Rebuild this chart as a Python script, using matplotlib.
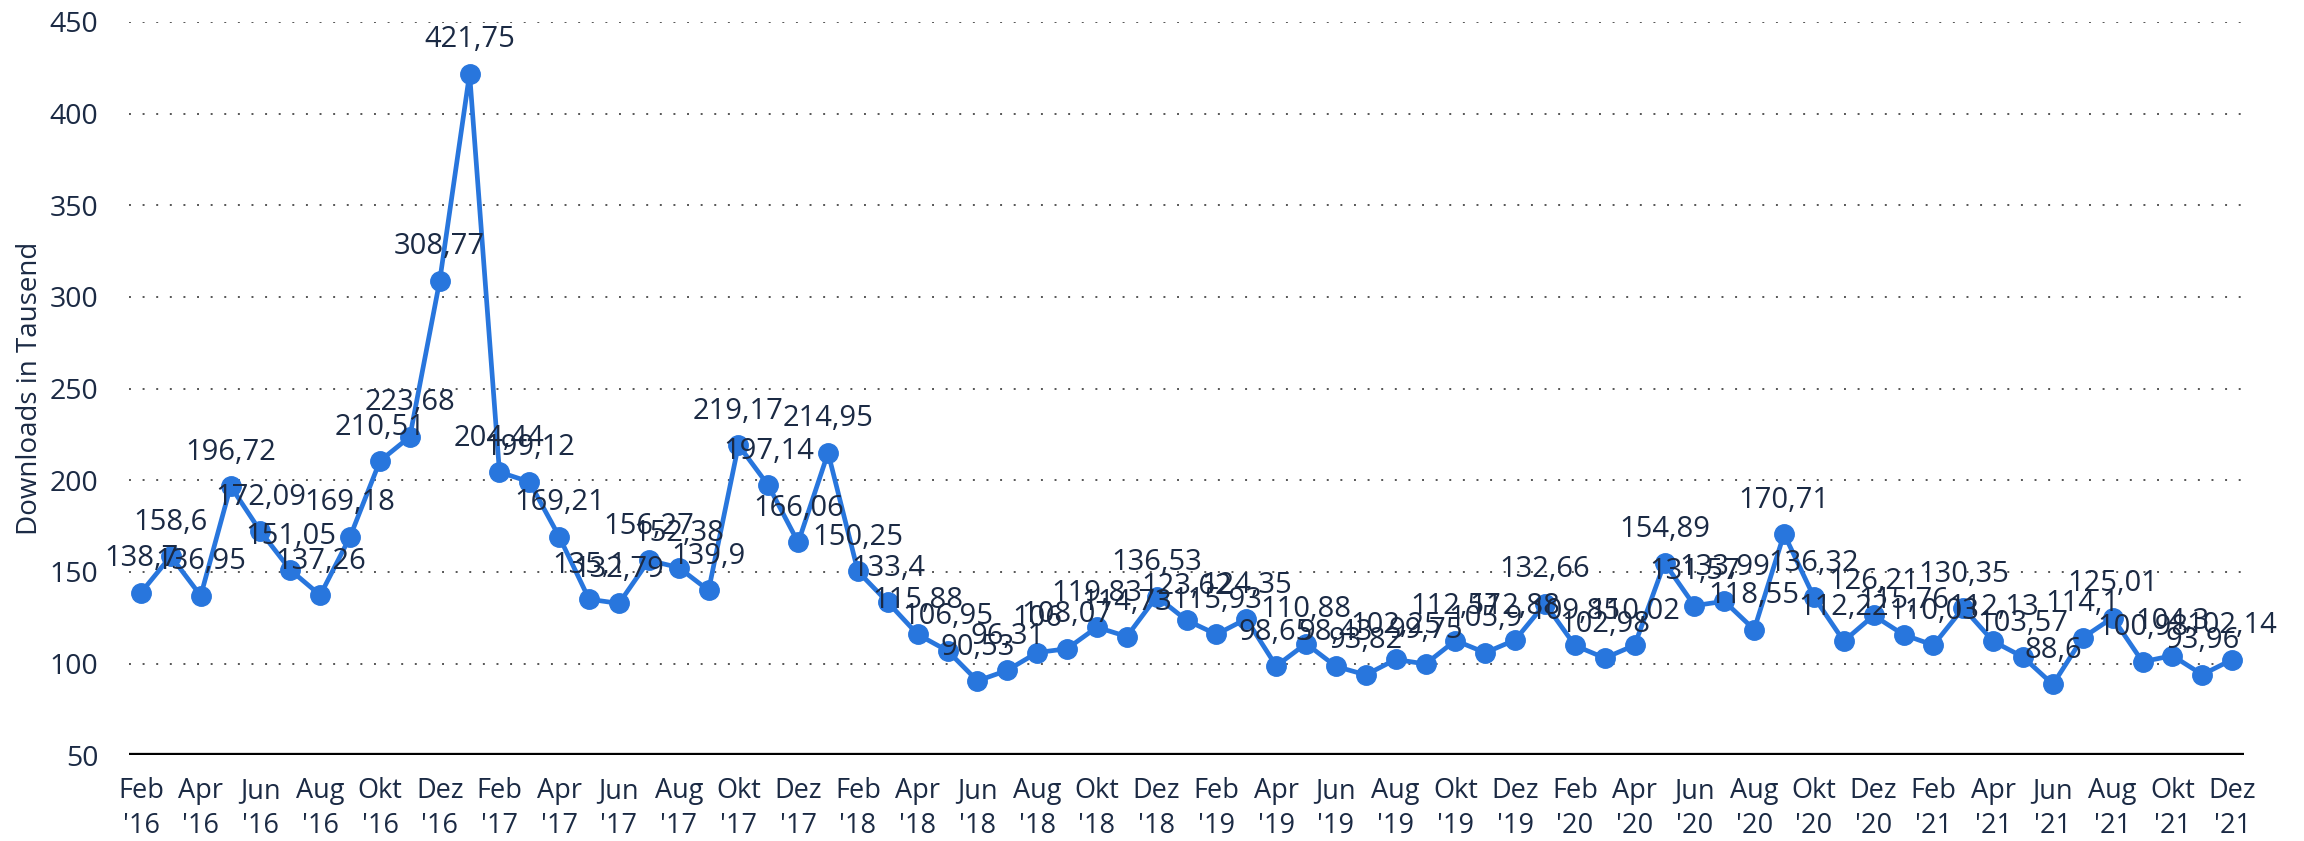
import matplotlib
matplotlib.use("Agg")
import matplotlib.pyplot as plt

# monthly downloads (in thousands), Feb 2016 - Dez 2021
months = ["Jan", "Feb", "Mär", "Apr", "Mai", "Jun", "Jul", "Aug", "Sep", "Okt", "Nov", "Dez"]
years = ["16", "17", "18", "19", "20", "21"]

values = [
    138.7, 158.6, 136.95, 196.72, 172.09, 151.05, 137.26, 169.18, 210.51, 223.68, 308.77,
    421.75, 204.44, 199.12, 169.21, 135.1, 132.79, 156.27, 152.38, 139.9, 219.17, 197.14, 166.06,
    214.95, 150.25, 133.4, 115.88, 106.95, 90.53, 96.31, 106, 108.07, 119.83, 114.73, 136.53,
    123.62, 115.93, 124.35, 98.65, 110.88, 98.43, 93.82, 102.25, 99.75, 112.57, 105.9, 112.88,
    132.66, 109.85, 102.98, 110.02, 154.89, 131.57, 133.99, 118.55, 170.71, 136.32, 112.22, 126.21,
    115.76, 110.03, 130.35, 112.13, 103.57, 88.6, 114.1, 125.01, 100.98, 104.3, 93.96, 102.14,
]

# build month/year labels starting at Feb '16
labels = []
for y in years:
    for m in months:
        labels.append((m, y))
labels = labels[1:1 + len(values)]

y_ticks = [50, 100, 150, 200, 250, 300, 350, 400, 450]

blue = "#2876dd"
txt = "#1b2a44"

plt.rcParams["font.family"] = ["Open Sans", "DejaVu Sans"]

fig = plt.figure(figsize=(23.04, 8.41), dpi=100)
ax = fig.add_axes([0.056, 0.102, 0.918, 0.872])

x = list(range(len(values)))
ax.plot(x, values, color=blue, linewidth=3.4, marker="o", markersize=14, zorder=3)

# value labels above every point (they overlap, like in the original)
for xi, v in zip(x, values):
    s = ("%g" % v).replace(".", ",")
    ax.annotate(s, (xi, v), xytext=(0, 19), textcoords="offset points",
                ha="center", va="baseline", fontsize=21, color=txt, zorder=4)

ax.set_ylim(50, 450)
ax.set_xlim(-0.4, len(values) - 1 + 0.4)
ax.set_yticks(y_ticks)
ax.set_yticklabels([str(t) for t in y_ticks])

tick_pos = [i for i in x if i % 2 == 0]
ax.set_xticks(tick_pos)
ax.set_xticklabels(["%s\n'%s" % labels[i] for i in tick_pos], linespacing=1.3)

for t in y_ticks[1:]:
    ax.axhline(t, color="#555555", linestyle=(0, (1, 6)), linewidth=1.4, zorder=1)
ax.axhline(50, color="black", linewidth=3.8, zorder=2)

for sp in ax.spines.values():
    sp.set_visible(False)
ax.tick_params(axis="both", length=0, colors=txt)
ax.tick_params(axis="x", pad=16, labelsize=19.5)
ax.tick_params(axis="y", pad=22, labelsize=20.5)
ax.set_ylabel("Downloads in Tausend", fontsize=20, color=txt, labelpad=4)

fig.savefig("out.png", dpi=100)
